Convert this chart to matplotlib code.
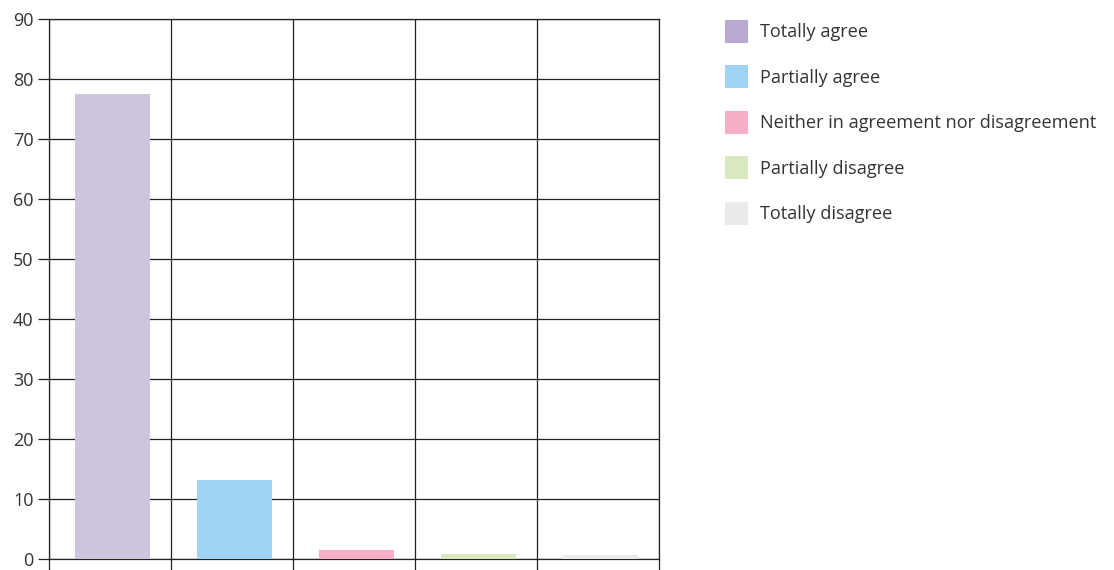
import matplotlib
matplotlib.use("Agg")
import matplotlib.pyplot as plt
from matplotlib.patches import Patch
import numpy as np

categories = ["Totally agree", "Partially agree",
              "Neither in agreement nor disagreement",
              "Partially disagree", "Totally disagree"]
values = [77.5, 13.2, 1.5, 0.9, 0.7]
bar_colors = ["#cdc4de", "#a0d4f5", "#f7afc8", "#d9e9bf", "#ebebeb"]
legend_colors = ["#b8a9d0", "#a0d4f5", "#f7afc8", "#d9e9bf", "#ebebeb"]
y_ticks = list(range(0, 91, 10))

plt.rcParams["font.family"] = ["Open Sans", "DejaVu Sans"]

fig = plt.figure(figsize=(11.14, 5.70), dpi=100)
ax = fig.add_axes([49 / 1114, 11 / 570, 610 / 1114, 540 / 570])

x = np.arange(len(values))
ax.bar(x + 0.02, values, width=0.61, color=bar_colors, zorder=3)

ax.set_xlim(-0.5, len(values) - 0.5)
ax.set_ylim(0, 90)
ax.set_yticks(y_ticks)
ax.set_xticks(np.arange(len(values) + 1) - 0.5)
ax.set_xticklabels([])

line_col = "#222222"
ax.grid(True, color=line_col, linewidth=0.9, zorder=0)
for s in ax.spines.values():
    s.set_color(line_col)
    s.set_linewidth(0.9)
ax.tick_params(axis="y", length=8, width=0.9, color=line_col, pad=3,
               labelsize=13, labelcolor="#333333")
ax.tick_params(axis="x", length=11, width=0.9, color=line_col)

handles = [Patch(facecolor=c, edgecolor="none") for c in legend_colors]
fig.legend(handles, categories, loc="upper left",
           bbox_to_anchor=(725 / 1114, (570 - 20) / 570),
           bbox_transform=fig.transFigure, frameon=False,
           fontsize=13.1, handlelength=1.25, handleheight=1.57,
           handletextpad=0.65, labelspacing=1.23, borderpad=0,
           borderaxespad=0, labelcolor="#333333")

fig.savefig("out.png", dpi=100)
